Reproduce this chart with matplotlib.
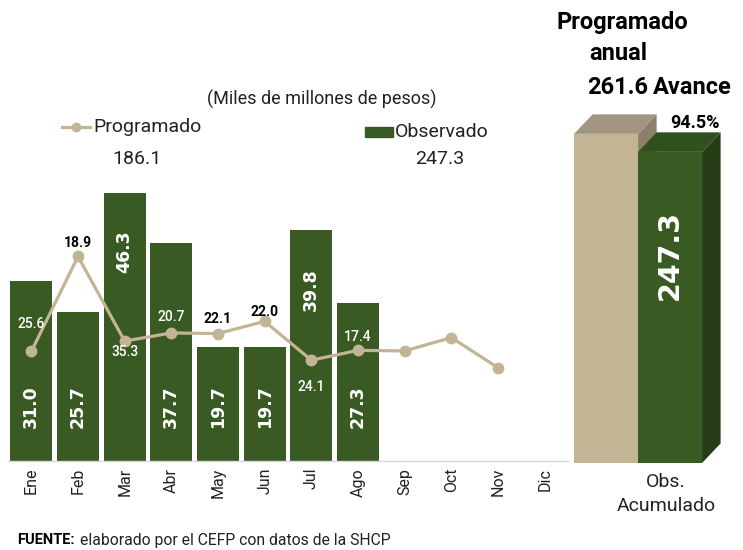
import matplotlib
matplotlib.use('Agg')
import matplotlib.pyplot as plt
from matplotlib.patches import Polygon, Rectangle
from matplotlib.lines import Line2D
from matplotlib.text import Annotation

# ---------------- data ----------------
meses = ['Ene', 'Feb', 'Mar', 'Abr', 'May', 'Jun', 'Jul', 'Ago', 'Sep', 'Oct', 'Nov', 'Dic']
observado = [31.0, 25.7, 46.3, 37.7, 19.7, 19.7, 39.8, 27.3]
programado = [25.6, 18.9, 35.3, 20.7, 22.1, 22.0, 24.1, 17.4, 19.1, 19.0, 21.3, 16.1]
total_programado = 186.1
total_observado = 247.3
acum_labels = ['Programado anual', 'Obs. Acumulado']
acum_values = [261.6, 247.3]
avance = 94.5

# ---------------- style ----------------
GREEN = '#3a5a24'
GREEN_TOP = '#30501e'
GREEN_SIDE = '#263d17'
TAN = '#c4b496'
TAN_TOP = '#a09680'
TAN_SIDE = '#8c806b'
FONT = ['Roboto', 'DejaVu Sans']

W, H = 743, 550
fig = plt.figure(figsize=(W / 100, H / 100), dpi=100)

def fx(px):
    return px / W

def fy(py):
    return 1 - py / H

# ---------------- main monthly chart ----------------
ax = fig.add_axes([fx(8), fy(461), fx(560), 281 / H])
ax.set_xlim(-0.5, 11.5)
ax.set_ylim(0, 48.5)
px_per_unit = 281 / 48.5
x_obs = list(range(len(observado)))
ax.bar(x_obs, observado, width=0.9, color=GREEN, zorder=2)

# programmed line (as drawn in the reference, points are shifted one month)
x_line = list(range(len(meses) - 1))
ax.plot(x_line, programado[1:], color=TAN, lw=2.3, marker='o', ms=7.5,
        mfc=TAN, mec=TAN, zorder=3)

# value labels of the bars: most at the base, two near the top
label_top = [False, False, True, False, False, False, True, False]
for i, v in enumerate(observado):
    ybar = v - 59 / px_per_unit if label_top[i] else 54 / px_per_unit
    ax.text(i, ybar, f'{v:.1f}', rotation=90, ha='center', va='center',
            color='white', fontsize=12.5, fontweight='bold',
            family='DejaVu Sans', zorder=4)

label_dy = [27, 13, -11, 16, 15, 9, -27, 13]
for i in range(len(observado)):
    yp = programado[i + 1]
    ylab = yp + label_dy[i] / px_per_unit
    inside = ylab < observado[i]
    ax.annotate(f'{programado[i]:.1f}', (i, yp), xytext=(0, label_dy[i]),
                textcoords='offset pixels', ha='center', va='center',
                color='white' if inside else 'black',
                fontsize=10, fontweight='medium' if inside else 'bold',
                family=FONT, zorder=5)

for s in ['top', 'right', 'left']:
    ax.spines[s].set_visible(False)
ax.spines['bottom'].set_color('#d9d9d9')
ax.spines['bottom'].set_linewidth(1)
ax.set_yticks([])
ax.set_xticks(range(len(meses)))
ax.set_xticklabels(meses, rotation=90, fontsize=11.5, family=FONT, color='#222222')
ax.tick_params(axis='x', length=0, pad=5)

# ---------------- accumulated 3D-like bars ----------------
ax2 = fig.add_axes([fx(560), fy(463), fx(183), 463 / H])
ax2.set_xlim(-0.72, 2.14)
ax2.set_ylim(0, 368)
ax2.axis('off')
dx, dy = 0.29, 15.5
faces = [(TAN, TAN_TOP, TAN_SIDE), (GREEN, GREEN_TOP, GREEN_SIDE)]
for i, v in enumerate(acum_values):
    c_front, c_top, c_side = faces[i]
    x0, x1 = i - 0.5, i + 0.5
    ax2.add_patch(Polygon([(x1, 0), (x1 + dx, dy), (x1 + dx, v + dy), (x1, v)],
                          closed=True, color=c_side, lw=0, zorder=2 + 2 * i))
    ax2.add_patch(Polygon([(x0, v), (x0 + dx, v + dy), (x1 + dx, v + dy), (x1, v)],
                          closed=True, color=c_top, lw=0, zorder=2 + 2 * i))
    ax2.add_patch(Rectangle((x0, 0), 1, v, color=c_front, lw=0, zorder=3 + 2 * i))

ax2.text(1, acum_values[1] * 0.67, f'{acum_values[1]:.1f}', rotation=90,
         ha='center', va='center', color='white', fontsize=20.5,
         fontweight='bold', family='DejaVu Sans', zorder=10)

# ---------------- texts ----------------
fig.text(fx(322), fy(99), '(Miles de millones de pesos)', ha='center', va='center',
         fontsize=13, family=FONT, color='#222222')

fig.add_artist(Line2D([fx(62), fx(90)], [fy(127), fy(127)], color=TAN, lw=2.3,
                      transform=fig.transFigure))
fig.add_artist(Line2D([fx(76)], [fy(127)], color=TAN, marker='o', ms=6,
                      transform=fig.transFigure))
fig.text(fx(93), fy(127), 'Programado', ha='left', va='center', fontsize=14,
         family=FONT, color='#222222')
fig.text(fx(137), fy(159), f'{total_programado:.1f}', ha='center', va='center',
         fontsize=14, family=FONT, color='#222222')

fig.add_artist(Rectangle((fx(365), fy(137)), fx(28), 10 / H, color=GREEN,
                         transform=fig.transFigure))
fig.text(fx(395), fy(132), 'Observado', ha='left', va='center', fontsize=14,
         family=FONT, color='#222222')
fig.text(fx(440), fy(159), f'{total_observado:.1f}', ha='center', va='center',
         fontsize=14, family=FONT, color='#222222')

fig.text(fx(622), fy(23), 'Programado', ha='center', va='center', fontsize=17,
         fontweight='bold', family=FONT, color='black')
fig.text(fx(618), fy(54), 'anual', ha='center', va='center', fontsize=17,
         fontweight='bold', family=FONT, color='black')
fig.text(fx(618), fy(88), f'{acum_values[0]:.1f}', ha='center', va='center', fontsize=17,
         fontweight='bold', family=FONT, color='black')
fig.text(fx(692), fy(88), 'Avance', ha='center', va='center', fontsize=17,
         fontweight='bold', family=FONT, color='black')
fig.text(fx(695), fy(123), f'{avance:.1f}%', ha='center', va='center', fontsize=13,
         fontweight='bold', family=FONT, color='black')
fig.text(fx(666), fy(494), 'Obs.\nAcumulado', ha='center', va='center', fontsize=14,
         family=FONT, color='#222222', linespacing=1.45)

t_fuente = fig.text(fx(17), fy(540), 'FUENTE:', ha='left', va='center', fontsize=10.5,
                    fontweight='bold', family=FONT, color='black')
ann = Annotation('elaborado por el CEFP con datos de la SHCP',
                 xy=(1, 0.5), xycoords=t_fuente, xytext=(5, 0),
                 textcoords='offset pixels', ha='left', va='center',
                 fontsize=11.3, family=FONT, color='#222222')
fig.add_artist(ann)

fig.savefig('out.png', dpi=100)
